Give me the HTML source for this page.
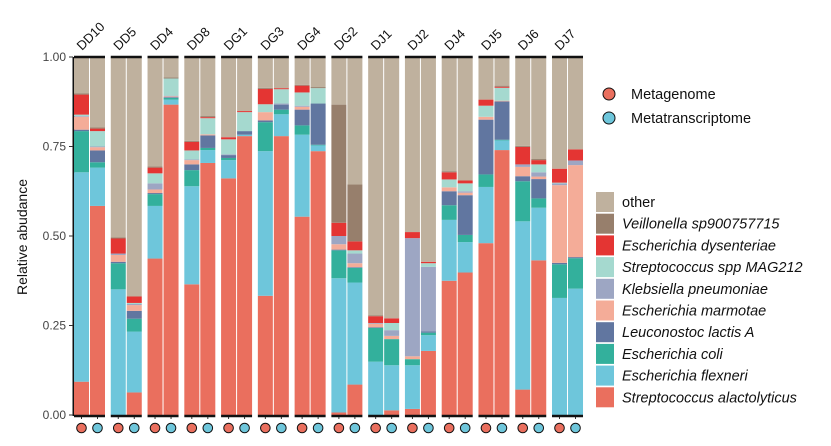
<!DOCTYPE html>
<html><head><meta charset="utf-8"><style>
body{margin:0;background:#fff;}
svg{display:block;font-family:"Liberation Sans",Arial,sans-serif;}
</style></head><body>
<svg id="chart" width="831" height="446"></svg>
<script>
const samples=["DD10","DD5","DD4","DD8","DG1","DG3","DG4","DG2","DJ1","DJ2","DJ4","DJ5","DJ6","DJ7"];
const species=["Streptococcus alactolyticus","Escherichia flexneri","Escherichia coli","Leuconostoc lactis A","Escherichia marmotae","Klebsiella pneumoniae","Streptococcus spp MAG212","Escherichia dysenteriae","Veillonella sp900757715","other"];
const colors=["#EA6F5E","#6EC6DB","#33B09C","#6176A0","#F4AC98","#9DA6C3","#A5D9CF","#E43533","#977F6C","#BFB19E"];
// per sample: [alact, flexneri, coli, lactis, marmotae, pneumoniae, MAG212, dysenteriae, veillonella] ; other = remainder
const metagenome=[
[.093,.585,.115,.004,.036,.002,.004,.056,.003],
[0,.351,.073,.004,.019,.004,0,.042,.003],
[.437,.147,.033,.003,.010,.017,.028,.016,.003],
[.365,.274,.045,.016,.012,.002,.025,.024,.003],
[.661,.051,.006,.008,0,.002,.042,.006,0],
[.333,.404,.081,.005,.023,0,.022,.043,.003],
[.554,.229,.026,.044,.008,.003,.037,.019,.002],
[.007,.375,.078,.002,.015,.023,0,.037,.330],
[0,.149,.094,.002,.010,.002,0,.019,.002],
[.017,.122,.017,0,.008,.330,0,.017,0],
[.375,.170,.041,.039,.011,0,.022,.020,.003],
[.480,.157,.035,.153,.008,0,.031,.017,0],
[.071,.470,.112,.014,.026,.007,0,.049,.003],
[0,.327,.094,.004,.217,.005,.002,.039,0]];
const metatranscriptome=[
[.584,.107,.015,.033,.009,.002,.043,.007,.003],
[.063,.170,.036,.022,.016,.003,.003,.018,0],
[.867,.014,.005,.002,.002,.002,.048,0,.003],
[.704,.036,.006,.035,.003,0,.045,.003,.003],
[.779,.004,0,.010,0,0,.053,.003,0],
[.779,.061,.013,.014,0,.003,.040,.003,0],
[.737,.016,.002,.115,0,0,.043,0,.003],
[.085,.285,.041,.002,.011,.027,.009,.025,.159],
[.013,.126,.073,0,.009,.016,.020,.013,0],
[.179,.044,.007,.004,0,.180,.010,.004,0],
[.398,.085,.020,.111,.007,.004,.022,.008,0],
[.740,.027,.002,.107,.002,0,.036,.003,.003],
[.432,.147,.026,.054,.007,.012,.022,.012,.003],
[0,.353,.085,.003,.257,.013,0,.031,0]];
const yTicks=[0,0.25,0.5,0.75,1];
const yTickLabels=["0.00","0.25","0.50","0.75","1.00"];

const NS="http://www.w3.org/2000/svg";
const svg=document.getElementById('chart');
function mk(tag,attrs,parent){const e=document.createElementNS(NS,tag);for(const k in attrs)e.setAttribute(k,attrs[k]);(parent||svg).appendChild(e);return e;}
const Y0=415,Y1=57;
function yv(v){return Y0-(Y0-Y1)*v;}
const panelX0=74,pitch=36.77,panelW=31;
function px(i){return panelX0+i*pitch;}
const barW=15;

const yAxis=mk('g',{});


mk('line',{x1:73.5,x2:73.5,y1:Y1,y2:Y0+1,stroke:'#111','stroke-width':2},yAxis);
yTicks.forEach((t,i)=>{
  mk('line',{x1:69,x2:73,y1:yv(t),y2:yv(t),stroke:'#333','stroke-width':1},yAxis);
  const tx=mk('text',{x:66,y:yv(t)+4,'text-anchor':'end','font-size':12,fill:'#444'},yAxis);
  tx.textContent=yTickLabels[i];
  
  
});
const yt=mk('text',{x:0,y:0,transform:'translate(27,237) rotate(-90)','text-anchor':'middle','font-size':14,fill:'#111'});
yt.textContent='Relative abudance';



samples.forEach((s,i)=>{
  const g=mk('g',{});
  
  
  const x0=px(i);
  [metagenome[i],metatranscriptome[i]].forEach((vals,b)=>{
    const bx=x0+b*(barW+1);
    let cum=0;
    const full=vals.concat([Math.max(0,1-vals.reduce((a,c)=>a+c,0))]);
    full.forEach((v,k)=>{
      if(v<=0)return;
      const r=mk('rect',{x:bx,y:yv(cum+v),width:barW,height:yv(cum)-yv(cum+v),fill:colors[k]},g);
      
      
      cum+=v;
    });
    const c=mk('circle',{cx:bx+barW/2,cy:428,r:4.8,fill:b?'#6EC6DB':'#EA6F5E',stroke:'#111','stroke-width':1},g);
    
    
    mk('line',{x1:bx+barW/2,x2:bx+barW/2,y1:Y0+1,y2:Y0+4,stroke:'#333'},g);
  });
  mk('line',{x1:x0,x2:x0+panelW,y1:Y1,y2:Y1,stroke:'#111','stroke-width':2.5},g);
  mk('line',{x1:x0,x2:x0+panelW,y1:Y0+1,y2:Y0+1,stroke:'#111','stroke-width':2.5},g);
  const t=mk('text',{x:0,y:0,transform:`translate(${x0+8},${51}) rotate(-45)`,'font-size':13,fill:'#111'},g);
  t.textContent=s;
  
  
});

const lt=mk('g',{});


[["Metagenome","#EA6F5E",94],["Metatranscriptome","#6EC6DB",118]].forEach(d=>{
  const c=mk('circle',{cx:609,cy:d[2],r:6,fill:d[1],stroke:'#111','stroke-width':1},lt);
  
  
  const t=mk('text',{x:631,y:d[2]+5,'font-size':14.5,fill:'#111'},lt);
  t.textContent=d[0];
  
  
});
const ls=mk('g',{});


for(let k=9;k>=0;k--){
  const row=9-k;
  const yy=192+row*21.7;
  const r=mk('rect',{x:596,y:yy,width:18,height:20,fill:colors[k]},ls);
  
  
  const t=mk('text',{x:622,y:yy+15,'font-size':14.5,fill:'#111','font-style':k===9?'normal':'italic'},ls);
  t.textContent=species[k];
  
  
}
</script>
</body></html>
